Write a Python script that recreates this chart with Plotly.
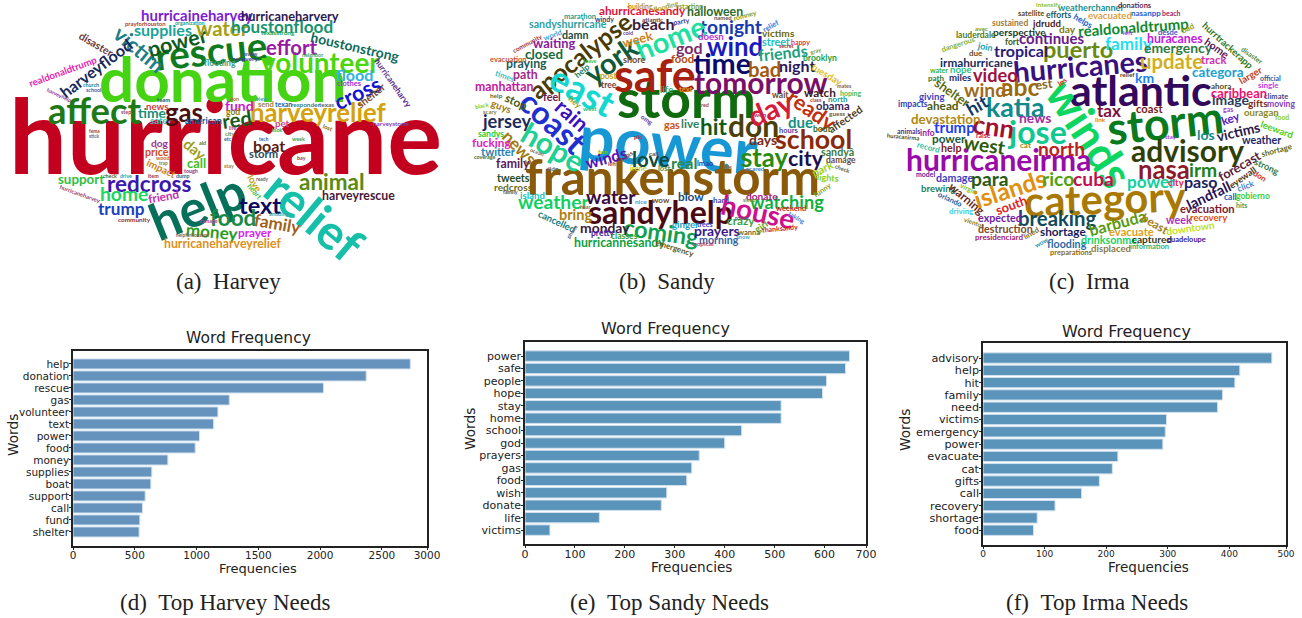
import plotly.graph_objects as go

W, H = 1302, 618
CLOUD_FONT = "Lato"
CLOUD_WEIGHT = 700
CLOUD_SCALE = 1.07

# ---------- bar chart data ----------
harvey_needs = ["help","donation","rescue","gas","volunteer","text","power","food","money","supplies","boat","support","call","fund","shelter"]
harvey_freq = [2730,2373,2027,1265,1173,1138,1024,989,768,638,630,584,562,541,535]
sandy_needs = ["power","safe","people","hope","stay","home","school","god","prayers","gas","food","wish","donate","life","victims"]
sandy_freq = [650,642,604,596,513,513,434,400,349,334,324,284,273,149,50]
irma_needs = ["advisory","help","hit","family","need","victims","emergency","power","evacuate","cat","gifts","call","recovery","shortage","food"]
irma_freq = [469,417,409,389,381,298,296,292,219,210,189,160,117,88,82]

# ---------- word clouds: words, then placement rows (x px, y px, size, angle, colour) ----------
harvey_words = [
"hurricane","donation","rescue","help","relief",
"affect","harveyrelief","volunteer","effort","power",
"victim","water","supplies","houstonflood","hurricaineharvey",
"hurricaneharvery","houstonstrong","harveyflood","disaster","realdonaldtrump",
"flood","cross","shelter","hurricaneharvy","gas",
"fund","red","time","boat","storm",
"dog","price","day","call","impact",
"support","redcross","home","trump","friend",
"animal","harveyrescue","text","food","family",
"money","prayer","hurricaneharveyrelief","love","heart",
"news","safe","american","pet","god",
"send","texan","responder","texas","clothes",
"flooding","recovery","prayforhouston","organization","texasstrong",
"harveystorm","community","helpforhouston","damage","amazing",
"hurricaneharvey","harveyhelp","school","church","neighbor",
"fema","stick","city","life","etc",
"aid","stay","ready","dump","item",
"check","drive","wood","trap","tough",
"bay","week","tech","look","lost",
"team","don","view","step","review",
]
harvey_place = [
(225,134,96,0,"#c4001f"),(222,78,58,0,"#45d313"),(211,50,36,-6,"#0f7a1e"),(197,205,48,-22,"#06705a"),(315,215,45,40,"#16bfa8"),
(94,110,34,0,"#1d7a16"),(318,112,24,0,"#d4a20a"),(320,62,26,0,"#4bd60f"),(292,47,19,0,"#9a1ba3"),(177,42,20,-15,"#0d5a20"),
(139,49,20,40,"#1f7f86"),(222,28,19,0,"#a5a018"),(163,29,15,0,"#1aa39a"),(282,26,16,0,"#18936f"),(197,15,14,0,"#7a1fd1"),
(290,16,12,0,"#2c1a52"),(355,46,13,13,"#0f6b5c"),(95,68,15,-37,"#16285c"),(96,43,10,30,"#6b3a3a"),(63,71,9,-20,"#e820b0"),
(354,75,15,0,"#2fb3e0"),(357,93,20,-25,"#1212d4"),(370,95,10,-38,"#7a4a2a"),(393,83,8,55,"#5a2a8a"),(184,112,24,0,"#4a1010"),
(239,105,13,0,"#c820d0"),(237,119,19,-8,"#1a5a1a"),(152,112,13,0,"#18907a"),(269,145,15,0,"#5a1a10"),(263,153,10.5,0,"#2a4a5a"),
(160,143,9.5,0,"#a03090"),(157,151,10,0,"#d04a20"),(195,149,14,40,"#a0a020"),(196,163,12,0,"#40c020"),(161,168,9.5,25,"#d08020"),
(81,179,12.5,0,"#30c040"),(149,183,21,0,"#3a18b0"),(124,194,18,0,"#18d860"),(121,208,16,0,"#1a40c0"),(163,197,11,-10,"#c030b0"),
(332,181,21,0,"#5a8a10"),(358,195,11.5,0,"#4a1a3a"),(260,205,22,0,"#0a0a60"),(233,218,21,0,"#1a8a4a"),(278,223,16,10,"#a0601a"),
(212,231,16,5,"#2a9a20"),(255,232,11,0,"#d820f0"),(222,244,11.5,0,"#e09020"),(255,183,9,60,"#c0a010"),(254,192,7,50,"#40c040"),
(157,106,9,0,"#d04040"),(159,120,9,0,"#40c0c0"),(203,120,8.5,0,"#1a5a9a"),(282,123,9,0,"#d04080"),(233,112,8,0,"#808010"),
(266,104,7,0,"#a08040"),(283,104,6.5,0,"#2060a0"),(306,104,6,0,"#308090"),(326,104,6,0,"#606060"),(349,84,7,0,"#a030d0"),
(220,63,8,0,"#40a080"),(246,58,6,0,"#4040a0"),(145,23,5.5,0,"#a04040"),(190,23,5,0,"#20a090"),(278,33,6,0,"#20a040"),
(391,123,6,0,"#8040c0"),(134,219,6,0,"#8a3030"),(193,235,4.5,0,"#806040"),(208,221,5,0,"#a040a0"),(279,214,5,0,"#40a0a0"),
(80,193,5.5,20,"#a04060"),(59,95,5,25,"#8040a0"),(93,90,5,0,"#4060a0"),(91,85,5,0,"#2080a0"),(312,55,5,0,"#40a060"),
(94,131,4.5,0,"#a04020"),(94,136,4.5,0,"#606080"),(230,133,5.5,0,"#5a8a40"),(233,128,5,0,"#a04080"),(228,139,5,0,"#3060a0"),
(202,143,5,0,"#4a7a2a"),(229,166,5,0,"#a07a40"),(262,179,4.5,0,"#606060"),(183,176,5,0,"#2a6a8a"),(153,176,5,0,"#a03040"),
(110,176,5,0,"#4a6a1a"),(126,176,5,0,"#30a0a0"),(162,158,5,0,"#c06030"),(163,163,4.5,0,"#808040"),(191,171,5,0,"#804080"),
(301,158,5,0,"#a04030"),(298,139,5,0,"#30a060"),(264,139,4.5,0,"#4060a0"),(277,130,5,0,"#40a040"),(328,127,5.5,20,"#6a6a1a"),
(163,100,5.5,0,"#2a5a4a"),(234,99,5,0,"#a06a30"),(262,99,5,0,"#30a0c0"),(126,112,5,0,"#a04060"),(250,54,4.5,0,"#4a4a8a"),
]

sandy_words = [
"power","storm","frankenstorm","safe","sandyhelp",
"tomorrow","time","wind","tonight","home",
"york","apocalypse","east","coast","hope",
"rain","jersey","news","don","hit",
"day","ready","school","stay","city",
"love","real","winds","bad","god",
"food","week","beach","halloween","ahurricanesandy",
"sandyshurricane","damn","waiting","closed","praying",
"path","manhattan","stop","guys","feel",
"hey","help","sandys","fucking","twitter",
"family","tweets","redcross","island","weather",
"water","bring","coming","monday","hurricannesandy",
"cancelled","pretty","classes","emergency","prayers",
"morning","ginger","trees","house","watching",
"crazy","blow","wow","hard","donate",
"weekend","girl","wanna","snow","tropical",
"thanksandy","taking","funny","lights","park",
"check","damage","sandyâ","affected","bout",
"hours","guess","obama","north","class",
"watch","hoping","wait","due","days",
"night","friends","street","victims","doesn",
"brooklyn","tuesday","mates","gray","happy",
"secret","relief","romney","named","starting",
"flooding","building","marathon","windy","atlantic",
"party","cold","world","community","evacuation",
"leave","shore","times","post","tree",
"life","text","gas","live","west",
"help","scary","black","coverage","ocean",
"didn","call","fun","irene","lost",
"lmao","bits","scared","nice","hear",
"family","phone","won","omg","pic",
"gas","room","sleep","red","left",
]
sandy_place = [
(668,143,59,5,"#1797d4"),(686,97,50,0,"#0f6b0e"),(672,175,46,0,"#8a5a0a"),(655,75,42,0,"#a8200f"),(660,212,30,0,"#4a0a14"),
(760,82,28,0,"#7a0f6a"),(722,62,27,0,"#0a0a6a"),(735,46,24,0,"#1a1ac0"),(731,26,18,0,"#1a3ab0"),(670,37,27,-22,"#20e0a0"),
(611,60,27,-35,"#0f5a3a"),(580,55,23,-38,"#4a3a05"),(583,90,34,28,"#12d8d0"),(553,122,30,42,"#2030d0"),(553,146,28,30,"#20d090"),
(572,115,20,42,"#3a10c0"),(507,121,17,0,"#1a2a5a"),(520,147,16,45,"#a07a10"),(753,125,28,0,"#4a4008"),(713,126,21,0,"#0f5a1a"),
(770,108,27,-22,"#d81a3a"),(812,110,20,35,"#c0300f"),(813,139,25,0,"#8a2a0a"),(765,157,24,0,"#2a8a10"),(806,158,20,0,"#1a1050"),
(651,159,19,0,"#0f4a3a"),(684,162,15,0,"#2a8a4a"),(606,157,15,-15,"#5a10b0"),(765,69,19,0,"#a05a10"),(689,47,15,0,"#7a2a6a"),
(682,58,10.5,0,"#b04a10"),(637,39,12,-15,"#d0801a"),(653,24,15,0,"#3a1a3a"),(715,12,11.5,0,"#2a6a2a"),(642,11,11,0,"#e0103a"),
(568,24,10,0,"#30a0a0"),(575,34,10,0,"#1a4a3a"),(554,43,12,0,"#8a20a0"),(544,54,12.5,0,"#1a6a3a"),(526,64,11.5,0,"#1a5a5a"),
(525,75,11.5,0,"#a02a8a"),(504,87,11.5,0,"#c020a0"),(516,101,11,25,"#4a5a10"),(501,106,9.5,20,"#a07a20"),(552,97,10,0,"#6a1a4a"),
(575,102,8,40,"#80a020"),(582,71,8,-40,"#208060"),(491,134,8,0,"#20d040"),(492,142,11,0,"#e020c0"),(498,151,10.5,0,"#2a80b0"),
(513,164,11.5,0,"#5a1a5a"),(513,177,10,0,"#2a4a1a"),(513,187,9.5,0,"#6a6a1a"),(532,195,9,0,"#20c0c0"),(553,201,18,0,"#10d060"),
(611,197,18,0,"#3a0a40"),(575,214,13.5,0,"#b08010"),(662,232,22,8,"#10a050"),(605,227,13,0,"#3a1a3a"),(619,242,11.5,0,"#10a040"),
(557,221,9,25,"#208080"),(602,233,8,0,"#5020a0"),(624,236,8,0,"#30a030"),(675,248,7.5,18,"#5a5a20"),(717,230,13,0,"#3a1a8a"),
(719,239,10,0,"#3a60a0"),(685,224,9,0,"#20a0c0"),(705,224,6.5,0,"#4040c0"),(758,211,26,12,"#d0108a"),(787,202,17,0,"#10b040"),
(741,220,11,0,"#40a040"),(691,197,11,0,"#1a4a7a"),(661,200,7.5,0,"#6a4a20"),(721,200,7.5,0,"#3a4ab0"),(762,196,9.5,0,"#a02080"),
(791,209,7,0,"#e02020"),(761,226,9,-35,"#60a020"),(749,232,7,0,"#6a6a30"),(743,236,5.5,0,"#40b0d0"),(703,244,6,0,"#b04070"),
(780,228,6.5,-5,"#d02020"),(797,217,6,30,"#4080e0"),(822,191,7,-35,"#80a020"),(828,177,8.5,5,"#80d020"),(822,168,10.5,-25,"#a0d020"),
(843,168,5.5,20,"#606040"),(841,160,8,0,"#6a4a3a"),(838,151,10,0,"#3a7a3a"),(845,118,10,-35,"#4a3a1a"),(822,129,8,0,"#3a6a1a"),
(789,130,7,0,"#5040a0"),(837,113,6,0,"#606040"),(833,106,10.5,0,"#3a1a5a"),(838,99,7.5,0,"#20a090"),(816,100,5,0,"#a04040"),
(820,92,11,0,"#3a1a1a"),(851,93,6.5,0,"#40c060"),(780,95,8,0,"#6a4a1a"),(801,122,14,0,"#109080"),(763,140,13,0,"#7a2a1a"),
(797,66,15,0,"#2a1a5a"),(783,52,15,-6,"#20a080"),(776,42,10,0,"#20c0c0"),(778,33,9.5,0,"#6a6a10"),(711,36,9,0,"#c030d0"),
(820,58,8,0,"#20a040"),(827,74,9,30,"#e0c020"),(845,86,5,0,"#806060"),(816,51,5.5,-15,"#80a040"),(801,42,6.5,0,"#e04040"),
(786,46,5,0,"#a03030"),(770,26,7,-30,"#4080e0"),(745,15,6.5,-15,"#80a020"),(723,18,5.5,0,"#5a5a5a"),(691,6,6.5,0,"#80a020"),
(666,6,6.5,-15,"#a0a020"),(640,6,6.5,0,"#c09020"),(580,17,7,0,"#20a090"),(604,19,6.5,0,"#3a3a6a"),(652,19,6,0,"#6a3a3a"),
(681,21,6.5,-10,"#4040a0"),(628,33,5,0,"#6040a0"),(552,35,7,-20,"#40a0e0"),(527,43,6,-28,"#a03040"),(508,60,7,0,"#d05030"),
(590,61,5,0,"#40c040"),(634,59,8.5,0,"#6a4a2a"),(505,76,7.5,20,"#40c0c0"),(609,76,8,0,"#c0a020"),(609,85,8,0,"#7a3a3a"),
(666,89,9,0,"#30b080"),(686,89,7,0,"#e0a020"),(672,124,10,0,"#d05010"),(690,123,11,0,"#308060"),(590,109,6,0,"#20c080"),
(496,95,6,0,"#6a6a20"),(490,111,5.5,0,"#808040"),(482,106,5.5,-10,"#80d020"),(485,157,5,0,"#3a6a3a"),(537,152,5,20,"#706050"),
(552,168,6,0,"#606060"),(654,153,6,0,"#5a4a2a"),(603,151,6,0,"#80c020"),(638,168,7,0,"#c0d020"),(664,168,7,0,"#4a8a4a"),
(706,164,7,0,"#2040a0"),(727,167,5,0,"#a06020"),(755,168,6,0,"#4080d0"),(641,201,6,0,"#40a0d0"),(585,207,5,0,"#a06040"),
(510,192,5,0,"#5a4a2a"),(572,232,5,-55,"#606080"),(760,114,6,0,"#c02060"),(647,119,6,35,"#6040a0"),(638,136,6,0,"#b03050"),
(628,154,6,-30,"#705050"),(742,217,5.5,0,"#5a5a5a"),(749,200,5,0,"#8a8a30"),(705,105,5,0,"#a04040"),(612,164,5,0,"#a04040"),
]

irma_words = [
"atlantic","winds","storm","category","hurricaneirma",
"hurricanes","advisory","jose","katia","nasa",
"cnn","abc","wind","islands","puerto",
"update","breaking","para","rico","cuba",
"power","irm","paso","north","west",
"tax","news","hit","video","tropical",
"continues","realdonaldtrump","family","huracanes","emergency",
"categora","km","track","irmahurricane","nope",
"miles","est","shelter","giving","ahead",
"impacts","devastation","trump","info","power",
"help","animals","huracanirma","record","model",
"damage","brewing","virgin","warning","orlando",
"driving","vientos","south","expected","destruction",
"presidenciard","lined","wow","shortage","flooding",
"preparations","barbuda","evacuate","drinksonme","displaced",
"captured","information","guadeloupe","downtown","beast",
"week","recovery","evacuation","landfall","city",
"forecast","eyewall","click","call","gobierno",
"hits","don","strong","shortage","leeward",
"food","moving","climate","single","official",
"weather","ouragan","gas","gifts","caribbean",
"image","ahora","larger","hurrtrackerapp","home",
"disaster","bad","desde","left","key",
"victims","los","coast","relief","link",
"stay","cat","raise","les","join",
"due","fort","perspective","day","jdrudd",
"sustained","satellite","efforts","helps","evacuated",
"weatherchannel","intensify","donations","nasanpp","beach",
"avec","lauderdale","dangerous","water","path",
]
irma_place = [
(1141,89,40,0,"#33095e"),(1090,133,42,57,"#0dd660"),(1165,122,42,-6,"#0a7a1e"),(1105,198,39,-2,"#a87a05"),(999,159,28,0,"#9a0aa8"),
(1080,65,27,-5,"#3a1080"),(1187,150,28,0,"#2f3f05"),(1037,131,30,0,"#10c890"),(1015,107,25,0,"#108a8a"),(1164,169,24,0,"#8a1a2a"),
(993,126,24,8,"#a01030"),(1020,87,23,0,"#9a6a10"),(985,89,18,0,"#a06a20"),(1010,189,23,-18,"#e09010"),(1078,49,22,0,"#6a8a10"),
(1171,61,19,0,"#d0b020"),(1057,218,19,0,"#104a5a"),(990,178,18,0,"#2a5a10"),(1058,178,18,0,"#50a010"),(1093,179,18,0,"#c01050"),
(1151,181,16,0,"#10d0a0"),(1203,169,18,0,"#20801a"),(1201,181,15,0,"#1a2060"),(1061,148,18,0,"#c02020"),(985,144,18,8,"#2a5a0a"),
(1109,110,16,0,"#7a1040"),(1035,117,13,0,"#a030a0"),(977,105,17,-30,"#103a6a"),(995,75,17,0,"#a01040"),(1021,51,15,0,"#2a1a7a"),
(1052,38,14,0,"#6a1a8a"),(1133,27,14,-4,"#108a30"),(1129,43,16,0,"#20e0f0"),(1175,39,11.5,0,"#c020e0"),(1178,48,13,0,"#307a40"),
(1218,72,12.5,0,"#20a0d0"),(1144,77,13,0,"#1a80f0"),(1213,60,10.5,0,"#d030b0"),(977,62,11,0,"#1a2a5a"),(961,69,9,0,"#30c080"),
(960,77,9,0,"#2a2a6a"),(1043,84,12,-8,"#8a6a1a"),(952,92,12,35,"#5a6a10"),(932,96,9,0,"#4040c0"),(943,105,11,0,"#4a5a10"),
(913,104,8,0,"#3040c0"),(946,119,12.5,0,"#b08a10"),(955,127,14,0,"#1a40f0"),(927,133,8,0,"#a020a0"),(949,138,11,0,"#1a5a3a"),
(951,147,10,0,"#7a2020"),(908,131,6.5,0,"#3a3a8a"),(903,136,5.5,5,"#4a4a1a"),(928,147,7.5,15,"#30c0a0"),(925,174,6.5,0,"#6020a0"),
(955,177,10,0,"#4040c0"),(938,188,9,0,"#208060"),(968,188,6.5,25,"#80c020"),(967,198,11,40,"#6a2a1a"),(950,200,7,25,"#2060a0"),
(961,211,7.5,0,"#40d0e0"),(974,222,6,20,"#8a7a20"),(1011,205,12,-20,"#e02020"),(1000,217,10,0,"#7020a0"),(1006,228,10,0,"#7a4a2a"),
(999,237,7.5,0,"#a02070"),(1031,233,7,-30,"#8a6a20"),(1041,242,6,-30,"#20a0c0"),(1063,231,11,0,"#1a1a5a"),(1067,243,10,0,"#2a6aa0"),
(1071,252,7,0,"#8a6a20"),(1117,222,15,-15,"#5a9a10"),(1131,231,10.5,0,"#e0a020"),(1109,239,10,0,"#20d060"),(1111,248,9,0,"#8a7a4a"),
(1152,239,9.5,0,"#3a3a1a"),(1149,247,7,0,"#30b070"),(1186,239,7,0,"#3a20a0"),(1190,228,9.5,-8,"#c0e020"),(1155,223,11,30,"#a07a20"),
(1179,219,10,0,"#b030c0"),(1209,217,9,0,"#e05010"),(1207,208,10.5,0,"#7a1a2a"),(1208,195,13.5,-25,"#2a105a"),(1176,182,9,0,"#e02050"),
(1239,166,12,-30,"#5a1a3a"),(1242,177,8.5,-35,"#4a3a1a"),(1246,186,8,-20,"#4080d0"),(1230,197,8,0,"#2060c0"),(1253,196,8,0,"#40d040"),
(1241,205,6.5,0,"#40a060"),(1260,176,7.5,30,"#d03010"),(1267,166,8.5,25,"#2a7a4a"),(1277,150,7.5,-15,"#5a6a20"),(1277,129,9,20,"#50d020"),
(1282,117,6.5,0,"#80d020"),(1281,104,8,0,"#8040c0"),(1276,97,7,0,"#3a4a8a"),(1268,85,7.5,0,"#c040e0"),(1270,78,6.5,0,"#2a5a9a"),
(1261,139,10,0,"#1a2a6a"),(1261,112,9,0,"#8a8a20"),(1228,109,6.5,0,"#a040d0"),(1258,103,9.5,0,"#7a2a1a"),(1239,93,12,0,"#f01070"),
(1230,99,13,0,"#2a3a5a"),(1221,86,7.5,0,"#4a4a1a"),(1250,75,9,-30,"#c04020"),(1228,45,9,42,"#2a7a20"),(1217,47,10,35,"#5a1a5a"),
(1252,55,6.5,35,"#4a8a4a"),(1188,28,7.5,-25,"#a0a020"),(1168,32,7,0,"#4060c0"),(1128,33,6,0,"#a040e0"),(1230,118,11,-20,"#6020c0"),
(1238,131,13,-13,"#2a1a4a"),(1206,134,13,0,"#108a8a"),(1149,108,10.5,0,"#7a1a1a"),(1127,74,6,0,"#6a3a1a"),(1100,119,6,0,"#e08020"),
(1171,136,5.5,0,"#a040e0"),(1025,145,7.5,0,"#9a8a20"),(983,135,6.5,0,"#d02050"),(1063,82,7,-35,"#d03010"),(985,46,8.5,10,"#20a0b0"),
(976,53,7.5,0,"#6a4a2a"),(1012,42,8,0,"#3a5a1a"),(1019,32,9.5,0,"#1a3a2a"),(1067,29,9.5,0,"#7a7a10"),(1046,23,9,0,"#4a1a1a"),
(1010,23,8,0,"#a07a40"),(1031,13,7,0,"#5a4a1a"),(1058,15,8,0,"#1a5a6a"),(1083,21,8,30,"#2060d0"),(1110,15,9,0,"#e0a040"),
(1090,8,8.5,0,"#209090"),(1048,4,6,0,"#90c020"),(1135,6,7,0,"#5a2a5a"),(1146,13,7.5,0,"#2060d0"),(1171,13,6.5,0,"#a02060"),
(981,28,6,0,"#70a020"),(976,35,8,0,"#507a20"),(958,45,7,-18,"#80b040"),(939,70,6.5,0,"#30b030"),(936,78,7.5,0,"#2a7a3a"),
]

captions = ["(a)\u00a0\u00a0Harvey","(b)\u00a0\u00a0Sandy","(c)\u00a0\u00a0Irma","(d)\u00a0\u00a0Top Harvey Needs","(e)\u00a0\u00a0Top Sandy Needs","(f)\u00a0\u00a0Top Irma Needs"]
caption_pos = [(228,281),(667,281),(1089,281),(225,602),(670,602),(1097,602)]


def px(x, y):
    return dict(x=x / W, y=1 - y / H, xref="paper", yref="paper", showarrow=False,
                xanchor="center", yanchor="middle")


anns = []
for words, place in [(harvey_words, harvey_place), (sandy_words, sandy_place), (irma_words, irma_place)]:
    assert len(words) == len(place)
    for w, (x, y, s, a, c) in zip(words, place):
        anns.append(dict(text=w, textangle=a, font=dict(family=CLOUD_FONT, size=s * CLOUD_SCALE, color=c, weight=CLOUD_WEIGHT), **px(x, y)))

for t, (x, y) in zip(captions, caption_pos):
    anns.append(dict(text=t, font=dict(family="Liberation Serif", size=23, color="#222"), **px(x, y)))

fig = go.Figure()

panels = [
    dict(names=harvey_needs, vals=harvey_freq, frame=(73, 427, 351, 546), xmax=2865, ymin=-1.08, ymax=15.17,
         ticks=[0,500,1000,1500,2000,2500,2865], labels=["0","500","1000","1500","2000","2500","3000"], bar="#6593bd",
         title=(248,338,15.5), xt=(258,568,13), yt=(13,435,13.7), tf=10.5, yf=10.5),
    dict(names=sandy_needs, vals=sandy_freq, frame=(525, 866, 342, 544), xmax=683, ymin=-1.13, ymax=15.12,
         ticks=[0,100,200,300,400,500,600,683], labels=["0","100","200","300","400","500","600","700"], bar="#5b94bb",
         title=(665,329,16), xt=(691,567,13.6), yt=(470,429,13.7), tf=11, yf=11),
    dict(names=irma_needs, vals=irma_freq, frame=(983, 1286, 343, 545), xmax=492, ymin=-1.22, ymax=15.2,
         ticks=[0,100,200,300,400,492], labels=["0","100","200","300","400","500"], bar="#5b94bb",
         title=(1126,331,16), xt=(1148,567,13.5), yt=(905,430,13.7), tf=9, yf=11.2),
]

layout_axes = {}
for i, p in enumerate(panels, start=1):
    l, r, t, b = p["frame"]
    fig.add_trace(go.Bar(y=p["names"], x=p["vals"], orientation="h", width=0.84,
                         marker=dict(color=p["bar"], line=dict(color="#d3e2ee", width=1)),
                         xaxis=f"x{i}", yaxis=f"y{i}", showlegend=False))
    axis_font = dict(family="DejaVu Sans", color="#222")
    layout_axes[f"xaxis{i}"] = dict(domain=[l / W, r / W], range=[0, p["xmax"]], anchor=f"y{i}", tickmode="array",
                                    tickvals=p["ticks"], ticktext=p["labels"], ticks="outside", ticklen=2, tickwidth=1,
                                    tickcolor="#222", showgrid=False, zeroline=False, showline=True, mirror=True,
                                    automargin=False, ticklabelstandoff=-3,
                                    linecolor="#222", linewidth=1.5, tickfont=dict(size=p["tf"], **axis_font))
    layout_axes[f"yaxis{i}"] = dict(domain=[1 - b / H, 1 - t / H], range=[p["ymax"], p["ymin"]], anchor=f"x{i}",
                                    type="category", ticks="outside", ticklen=2, tickwidth=1, tickcolor="#222",
                                    tickmode="linear", dtick=1, showgrid=False, zeroline=False, showline=True, mirror=True,
                                    automargin=False, ticklabelstandoff=-2,
                                    linecolor="#222", linewidth=1.5, tickfont=dict(size=p["yf"], **axis_font))
    x, y, s = p["title"]
    anns.append(dict(text="Word Frequency", font=dict(family="DejaVu Sans", size=s, color="#222"), **px(x, y)))
    x, y, s = p["xt"]
    anns.append(dict(text="Frequencies", font=dict(family="DejaVu Sans", size=s, color="#222"), **px(x, y)))
    x, y, s = p["yt"]
    anns.append(dict(text="Words", textangle=-90, font=dict(family="DejaVu Sans", size=s, color="#222"), **px(x, y)))

fig.update_layout(width=W, height=H, margin=dict(l=0, r=0, t=0, b=0), paper_bgcolor="white", plot_bgcolor="white",
                  autosize=False, showlegend=False, annotations=anns, **layout_axes)

fig.write_html("out.html", config={"displayModeBar": False},
               post_script="document.body.style.margin='0';document.body.style.overflow='hidden';")
